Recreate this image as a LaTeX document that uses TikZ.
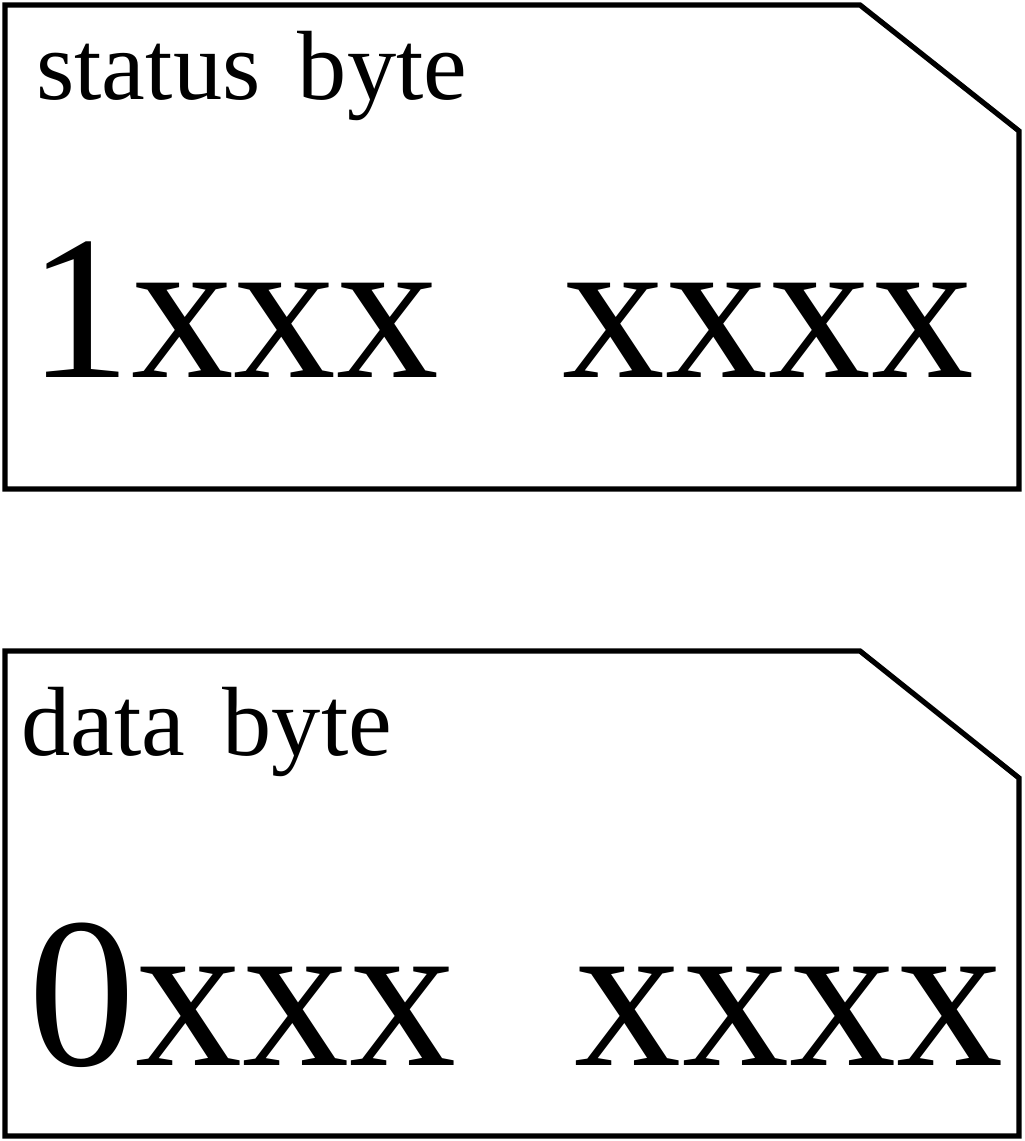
\documentclass[tikz,border=0pt]{standalone}
\usepackage{fontspec}
\setmainfont{Liberation Serif}
\usepackage{tikz}

\tikzset{
	frame/.style={line width=3pt, line join=miter},
	smalltext/.style={anchor=base west, inner sep=0pt, font=\fontsize{56}{60}\selectfont},
	bigtext/.style={anchor=base west, inner sep=0pt, font=\fontsize{117}{120}\selectfont}
}

\begin{document}
\begin{tikzpicture}[x=0.02cm, y=-0.02cm]
	
	\useasboundingbox (0,0) rectangle (1024,1141);
	
	% status byte
	\coordinate (s1) at (5,5);
	\coordinate (s2) at (860,5);
	\coordinate (s3) at (1019,131);
	\coordinate (s4) at (1019,489);
	\coordinate (s5) at (5,489);
	\draw[frame](s1) -- (s2) -- (s3) -- (s4) -- (s5) -- cycle;
	
	\node[smalltext] (statuslabel) at (36,100) {status\hspace{0.38em}byte};
	\node[bigtext] (statusbits) at (28,378) {1xxx\hspace{0.6em}xxxx};
	
	% data byte
	\coordinate (d1) at (5,651);
	\coordinate (d2) at (860,651);
	\coordinate (d3) at (1019,778);
	\coordinate (d4) at (1019,1136);
	\coordinate (d5) at (5,1136);
	\draw[frame](d1) -- (d2) -- (d3) -- (d4) -- (d5) -- cycle;
	
	\node[smalltext] (datalabel) at (21,755) {data\hspace{0.38em}byte};
	\node[bigtext, font=\fontsize{122}{125}\selectfont] (databits) at (28,1065) {0xxx\hspace{0.55em}xxxx};
	
\end{tikzpicture}
\end{document}
